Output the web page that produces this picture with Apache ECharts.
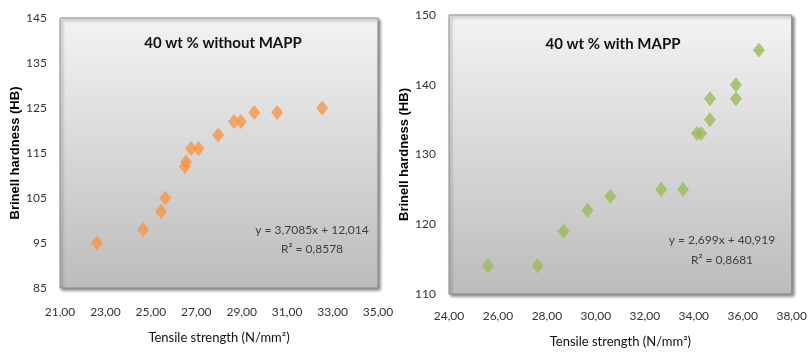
<!DOCTYPE html>
<html>
<head>
<meta charset="utf-8">
<script src="https://cdn.jsdelivr.net/npm/echarts@6/dist/echarts.min.js"></script>
<style>
    html, body { margin: 0; padding: 0; background: #fff; }
    #chart { width: 810px; height: 353px; }
</style>
</head>
<body>
<div id="chart"></div>
<script>
// without MAPP
var leftX = [22.63, 24.66, 25.45, 25.63, 26.50, 26.55, 26.77, 27.10, 27.96, 28.66, 28.96, 29.55, 30.56, 32.54];
var leftY = [95, 98, 102, 105, 112, 113, 116, 116, 119, 122, 122, 124, 124, 125];
var leftXTicks = [21, 23, 25, 27, 29, 31, 33, 35];
var leftYTicks = [85, 95, 105, 115, 125, 135, 145];

// with MAPP
var rightX = [25.59, 27.62, 28.68, 29.66, 30.59, 32.67, 33.56, 34.13, 34.30, 34.66, 34.66, 35.72, 35.72, 36.66];
var rightY = [114, 114, 119, 122, 124, 125, 125, 133, 133, 135, 138, 138, 140, 145];
var rightXTicks = [24, 26, 28, 30, 32, 34, 36, 38];
var rightYTicks = [110, 120, 130, 140, 150];

var titles = ['40 wt % without MAPP', '40 wt % with MAPP'];
var equations = ['y = 3,7085x + 12,014', 'y = 2,699x + 40,919'];
var rSquared = ['R² = 0,8578', 'R² = 0,8681'];

function pairs(xs, ys) {
    return xs.map(function (x, i) { return [x, ys[i]]; });
}

var chart = echarts.init(document.getElementById('chart'));

var labelColor = '#333340';
var gridBg = function () {
    return new echarts.graphic.LinearGradient(0, 0, 0, 1, [
        { offset: 0, color: '#f3f3f3' },
        { offset: 1, color: '#bcbcbc' }
    ]);
};
var gridStyle = {
    show: true,
    borderColor: '#8a8a8a',
    borderWidth: 1,
    shadowColor: 'rgba(0,0,0,0.45)',
    shadowBlur: 3,
    shadowOffsetX: 2,
    shadowOffsetY: 2
};

function xAxisOf(idx, min, max, ticks) {
    return {
        gridIndex: idx,
        type: 'value',
        min: min,
        max: max,
        name: 'Tensile strength (N/mm²)',
        nameLocation: 'middle',
        nameGap: idx === 0 ? 43 : 41,
        nameTextStyle: { fontFamily: 'Lato', fontSize: 13, color: '#111' },
        axisLine: { show: false },
        axisTick: { show: false },
        splitLine: { show: false },
        axisLabel: {
            customValues: ticks,
            margin: idx === 0 ? 18 : 16,
            fontFamily: 'Lato',
            fontSize: 12,
            color: labelColor,
            formatter: function (v) { return v.toFixed(2).replace('.', ','); }
        }
    };
}

function yAxisOf(idx, min, max, ticks) {
    return {
        gridIndex: idx,
        type: 'value',
        min: min,
        max: max,
        name: 'Brinell hardness (HB)',
        nameLocation: 'middle',
        nameGap: idx === 0 ? 36 : 38,
        nameTextStyle: { fontFamily: 'Liberation Sans', fontWeight: 'bold', fontSize: 13, color: '#000' },
        axisLine: { show: false },
        axisTick: { show: false },
        splitLine: { show: false },
        axisLabel: {
            customValues: ticks,
            margin: 13,
            fontFamily: 'Lato',
            fontSize: 12,
            color: labelColor
        }
    };
}

function textEl(x, y, txt, size, weight, color) {
    return {
        type: 'text',
        x: x,
        y: y,
        style: {
            text: txt,
            fontFamily: 'Lato',
            fontSize: size,
            fontWeight: weight,
            fill: color,
            align: 'center',
            verticalAlign: 'middle'
        }
    };
}

var option = {
    animation: false,
    backgroundColor: '#fff',
    grid: [
        Object.assign({ left: 60, top: 18, width: 318, height: 270, backgroundColor: gridBg() }, gridStyle),
        Object.assign({ left: 449, top: 15, width: 344, height: 280, backgroundColor: gridBg() }, gridStyle)
    ],
    xAxis: [
        xAxisOf(0, leftXTicks[0], leftXTicks[leftXTicks.length - 1], leftXTicks),
        xAxisOf(1, rightXTicks[0], rightXTicks[rightXTicks.length - 1], rightXTicks)
    ],
    yAxis: [
        yAxisOf(0, leftYTicks[0], leftYTicks[leftYTicks.length - 1], leftYTicks),
        yAxisOf(1, rightYTicks[0], rightYTicks[rightYTicks.length - 1], rightYTicks)
    ],
    series: [
        {
            type: 'scatter',
            xAxisIndex: 0,
            yAxisIndex: 0,
            symbol: 'diamond',
            symbolSize: [12, 15],
            itemStyle: { color: '#f79646' },
            data: pairs(leftX, leftY)
        },
        {
            type: 'scatter',
            xAxisIndex: 1,
            yAxisIndex: 1,
            symbol: 'diamond',
            symbolSize: [12, 15],
            itemStyle: { color: '#9bbb59' },
            data: pairs(rightX, rightY)
        }
    ],
    graphic: [
        textEl(223, 43, titles[0], 15, 'bold', '#111'),
        textEl(613, 44, titles[1], 15, 'bold', '#111'),
        textEl(312, 230, equations[0], 12, 'normal', '#404040'),
        textEl(312, 249, rSquared[0], 12, 'normal', '#404040'),
        textEl(722, 240, equations[1], 12, 'normal', '#404040'),
        textEl(722, 260, rSquared[1], 12, 'normal', '#404040')
    ]
};

chart.setOption(option);
window.addEventListener('resize', function () {
    chart.resize();
});
</script>
</body>
</html>
